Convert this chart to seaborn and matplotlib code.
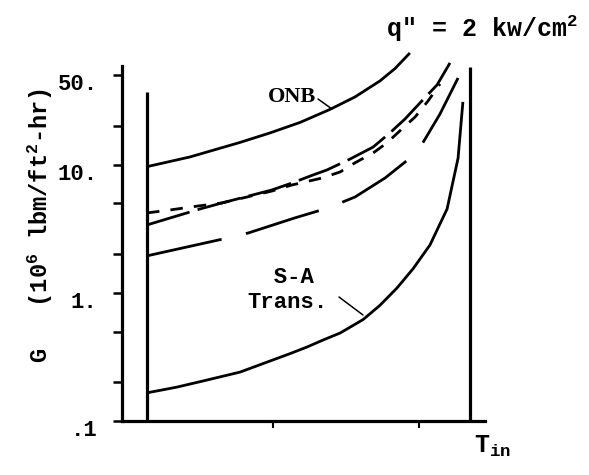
import matplotlib
matplotlib.use("Agg")
import matplotlib.pyplot as plt
from matplotlib.lines import Line2D
from matplotlib.ticker import FixedLocator, FixedFormatter, NullFormatter
import matplotlib.transforms as mtransforms
import pandas as pd
import seaborn as sns

# Normalised inlet temperature (0 and 1 are the two bounding temperatures)
# and mass velocity G in 10^6 lbm/ft^2-hr for each curve.
onb_t = [0.0, 0.133, 0.288, 0.381, 0.474, 0.567, 0.644, 0.721, 0.768, 0.814]
onb_g = [9.7, 11.55, 15.0, 17.8, 21.5, 27.2, 34.0, 45.3, 56.7, 75.0]

short_dash_t = [0.0, 0.071, 0.158, 0.232, 0.303, 0.387, 0.449, 0.489, 0.542,
                0.598, 0.644, 0.700, 0.743, 0.793, 0.830, 0.870, 0.907]
short_dash_g = [4.22, 4.45, 4.78, 5.05, 5.57, 6.26, 6.98, 7.36, 7.91,
                8.82, 10.4, 12.4, 14.9, 19.5, 23.7, 31.6, 42.9]

long_dash_t = [0.0, 0.164, 0.232, 0.303, 0.387, 0.449, 0.514, 0.557, 0.628,
               0.700, 0.752, 0.799, 0.845, 0.898, 0.938]
long_dash_g = [3.40, 4.53, 5.05, 5.62, 6.38, 7.23, 8.35, 9.14, 11.1,
               13.8, 17.8, 22.9, 30.5, 42.2, 62.7]

lower_dash_t = [0.0, 0.235, 0.313, 0.458, 0.560, 0.644, 0.737, 0.814, 0.854,
                0.907, 0.963]
lower_dash_g = [1.95, 2.64, 2.94, 3.86, 4.61, 5.62, 7.91, 11.3, 14.9,
                25.0, 47.8]

sa_t = [0.0, 0.093, 0.186, 0.288, 0.390, 0.443, 0.495, 0.545, 0.598, 0.669,
        0.721, 0.774, 0.824, 0.876, 0.929, 0.963, 0.978]
sa_g = [0.166, 0.184, 0.209, 0.241, 0.300, 0.336, 0.378, 0.429, 0.487,
        0.62, 0.80, 1.094, 1.55, 2.37, 4.53, 11.3, 31.1]

# Bounding inlet temperatures and the heights of their vertical lines
bound_t = [0.0, 1.0]
bound_top = [37.2, 58.4]

y_major = [0.1, 1, 10, 50]
y_major_labels = [".1", "1.", "10.", "50."]
y_minor = [0.2, 0.5, 2, 5, 20]
x_ticks = [0.39, 0.842]

W, H = 589, 475

sns.set_theme(style="white")
plt.rcParams["font.family"] = ["Liberation Mono", "DejaVu Sans Mono"]
plt.rcParams["font.weight"] = "bold"
plt.rcParams["mathtext.fontset"] = "custom"
plt.rcParams["mathtext.rm"] = "Liberation Mono:bold"
plt.rcParams["mathtext.it"] = "Liberation Mono:bold"
plt.rcParams["mathtext.bf"] = "Liberation Mono:bold"
plt.rcParams["lines.scale_dashes"] = False

fig = plt.figure(figsize=(W / 100, H / 100), dpi=100)
ax = fig.add_axes([122 / W, 54 / H, (485 - 122) / W, 378.2 / H])
ax.set_yscale("log")
ax.set_xlim(-0.0774, 1.0464)
ax.set_ylim(0.1, 90)
ax.set_facecolor("white")


def px(x, y):
    """Figure-fraction position from pixel coordinates (origin top-left)."""
    return x / W, 1 - y / H


curves = [
    (onb_t, onb_g, None),
    (short_dash_t, short_dash_g, (9, 8)),
    (long_dash_t, long_dash_g, (32, 6)),
    (lower_dash_t, lower_dash_g, (55, 18)),
    (sa_t, sa_g, None),
]
for t, g, dashes in curves:
    df = pd.DataFrame({"t": t, "G": g})
    sns.lineplot(data=df, x="t", y="G", ax=ax, color="black", lw=2.0,
                 estimator=None)
    line = ax.lines[-1]
    line.set_solid_capstyle("butt")
    line.set_solid_joinstyle("round")
    if dashes is not None:
        line.set_dashes(dashes)
        line.set_dash_capstyle("butt")

ax.vlines(bound_t, 0.1, bound_top, color="black", lw=2.3)

for side in ("top", "right"):
    ax.spines[side].set_visible(False)
for side in ("left", "bottom"):
    ax.spines[side].set_color("black")
    ax.spines[side].set_linewidth(2.3)
ax.spines["left"].set_bounds(0.1, 59)

ax.yaxis.set_major_locator(FixedLocator(y_major))
ax.yaxis.set_major_formatter(FixedFormatter(y_major_labels))
ax.yaxis.set_minor_locator(FixedLocator(y_minor))
ax.yaxis.set_minor_formatter(NullFormatter())
ax.xaxis.set_major_locator(FixedLocator(x_ticks))
ax.xaxis.set_minor_locator(FixedLocator([]))
ax.xaxis.set_major_formatter(NullFormatter())
ax.tick_params(axis="y", which="both", direction="out", length=6.5,
               width=1.8, color="black", pad=11, labelsize=16,
               labelcolor="black", left=True)
ax.tick_params(axis="x", which="major", direction="out", length=5,
               width=1.5, color="black", bottom=True)
ax.set_xlabel("")
ax.set_ylabel("")

shift = mtransforms.ScaledTranslation(0, -5 / 72, fig.dpi_scale_trans)
for lbl in ax.get_yticklabels():
    lbl.set_transform(lbl.get_transform() + shift)
    lbl.set_fontweight("bold")

# Axis titles
fig.text(*px(40, 226), "G   (10$^{6}$ lbm/ft$^{2}$-hr)", rotation=90,
         ha="center", va="center", fontsize=17, color="black")
fig.text(*px(474, 453), r"T$_{\mathrm{in}}$", ha="left", va="baseline",
         fontsize=18, color="black")
fig.text(*px(386, 37), 'q" = 2 kw/cm$^{2}$', ha="left", va="baseline",
         fontsize=18, color="black")

# Curve labels with leader lines
fig.text(*px(292, 97), "ONB", ha="center", va="center", fontsize=16,
         family=["Liberation Serif", "DejaVu Serif"], weight="bold",
         color="black")
fig.add_artist(Line2D([318 / W, 332 / W], [1 - 99 / H, 1 - 109 / H],
                      color="black", lw=1.1))
fig.text(*px(247, 267), "  S-A\nTrans.", ha="left", va="top", fontsize=16,
         linespacing=1.25, color="black")
fig.add_artist(Line2D([339 / W, 363 / W], [1 - 297 / H, 1 - 315 / H],
                      color="black", lw=1.1))

fig.savefig("out.png", dpi=100, facecolor="white")
